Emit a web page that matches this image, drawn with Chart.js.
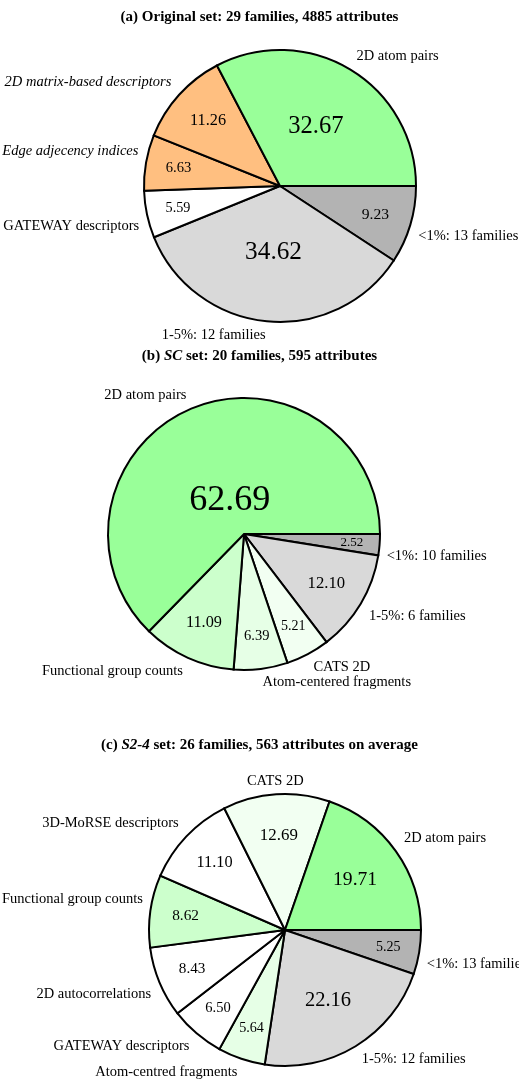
<!DOCTYPE html>
<html>
<head>
<meta charset="utf-8">
<script src="https://cdn.jsdelivr.net/npm/chart.js@4"></script>
<style>
  body { margin: 0; background: #fff; width: 519px; height: 1080px; position: relative; overflow: hidden; }
  canvas { position: absolute; left: 0; }
</style>
</head>
<body>
<canvas id="pieA" width="519" height="340" style="top:0px"></canvas>
<canvas id="pieB" width="519" height="370" style="top:340px"></canvas>
<canvas id="pieC" width="519" height="370" style="top:710px"></canvas>
<script>
// slices are listed anticlockwise starting at 3 o'clock, like the original figure

// (a) Original set
const labelsA = ['2D atom pairs', '2D matrix-based descriptors', 'Edge adjecency indices',
    'GATEWAY descriptors', '1-5%: 12 families', '<1%: 13 families'];
const valuesA = [32.67, 11.26, 6.63, 5.59, 34.62, 9.23];
const colorsA = ['#99ff99', '#ffbf80', '#ffbf80', '#ffffff', '#d9d9d9', '#b3b3b3'];
const italicA = ['2D matrix-based descriptors', 'Edge adjecency indices'];

// (b) SC set
const labelsB = ['2D atom pairs', 'Functional group counts', 'Atom-centered fragments',
    'CATS 2D', '1-5%: 6 families', '<1%: 10 families'];
const valuesB = [62.69, 11.09, 6.39, 5.21, 12.10, 2.52];
const colorsB = ['#99ff99', '#ccffcc', '#e6ffe6', '#f2fff2', '#d9d9d9', '#b3b3b3'];

// (c) S2-4 set
const labelsC = ['2D atom pairs', 'CATS 2D', '3D-MoRSE descriptors', 'Functional group counts',
    '2D autocorrelations', 'GATEWAY descriptors', 'Atom-centred fragments',
    '1-5%: 12 families', '<1%: 13 families'];
const valuesC = [19.71, 12.69, 11.10, 8.62, 8.43, 6.50, 5.64, 22.16, 5.25];
const colorsC = ['#99ff99', '#f2fff2', '#ffffff', '#ccffcc', '#ffffff', '#ffffff', '#e6ffe6', '#d9d9d9', '#b3b3b3'];

const FONT = "'Liberation Serif', 'DejaVu Serif', serif";
const RADIUS = 136;

// draws the percentages inside, the family names outside and the title
const pieLabels = {
    id: 'pieLabels',
    afterDatasetsDraw(chart, args, opts) {
        const ctx = chart.ctx;
        const meta = chart.getDatasetMeta(0);
        const values = chart.data.datasets[0].data;
        const names = chart.data.labels;
        ctx.save();
        ctx.fillStyle = '#000';
        ctx.textBaseline = 'middle';

        meta.data.forEach((arc, i) => {
            const p = arc.getProps(['x', 'y', 'startAngle', 'endAngle', 'outerRadius'], true);
            const mid = (p.startAngle + p.endAngle) / 2;
            const cos = Math.cos(mid), sin = Math.sin(mid);
            const v = values[i];

            // bigger slices get bigger numbers, pulled closer to the centre
            const d = Math.max(0.27, 0.82 - 0.0095 * v) * p.outerRadius;
            ctx.font = (12 + 0.385 * v).toFixed(1) + 'px ' + FONT;
            ctx.textAlign = 'center';
            ctx.fillText(v.toFixed(2), p.x + cos * d, p.y + sin * d);

            // names sit just outside; the ones near the horizontal are spread apart a bit
            const r = 1.1 * p.outerRadius;
            const flat = 1 - Math.abs(sin);
            const lx = p.x + cos * r - Math.sign(cos) * 7 * flat;
            const ly = p.y + sin * r + Math.sign(sin) * 11 * flat;
            const italic = (opts.italic || []).includes(names[i]);
            ctx.font = (italic ? 'italic ' : '') + '14.5px ' + FONT;
            ctx.textAlign = Math.abs(cos) < 0.08 ? 'center' : (cos > 0 ? 'left' : 'right');
            ctx.fillText(names[i], lx, ly);
        });

        // title made of runs, some in italics
        const runs = opts.title || [];
        const fontFor = run => (run[1] ? 'italic ' : '') + 'bold 15px ' + FONT;
        let total = 0;
        runs.forEach(run => { ctx.font = fontFor(run); total += ctx.measureText(run[0]).width; });
        let x = chart.width / 2 - total / 2;
        ctx.textAlign = 'left';
        runs.forEach(run => {
            ctx.font = fontFor(run);
            ctx.fillText(run[0], x, opts.titleY);
            x += ctx.measureText(run[0]).width;
        });
        ctx.restore();
    }
};

function makePie(id, labels, values, colors, cx, cy, title, titleY, italic) {
    const canvas = document.getElementById(id);
    const w = canvas.width, h = canvas.height;
    // Chart.js goes clockwise, the figure goes anticlockwise: reverse and start at 3 o'clock
    return new Chart(canvas, {
        type: 'pie',
        data: {
            labels: labels.slice().reverse(),
            datasets: [{
                data: values.slice().reverse(),
                backgroundColor: colors.slice().reverse(),
                borderColor: '#000',
                borderWidth: 2,
                borderJoinStyle: 'miter'
            }]
        },
        options: {
            responsive: false,
            animation: false,
            rotation: 90,
            radius: RADIUS,
            layout: {
                padding: { left: cx - RADIUS, right: w - cx - RADIUS, top: cy - RADIUS, bottom: h - cy - RADIUS }
            },
            plugins: {
                legend: { display: false },
                tooltip: { enabled: false },
                pieLabels: { title: title, titleY: titleY, italic: italic }
            }
        },
        plugins: [pieLabels]
    });
}

makePie('pieA', labelsA, valuesA, colorsA, 280, 186,
    [['(a) Original set: 29 families, 4885 attributes', false]], 17, italicA);
makePie('pieB', labelsB, valuesB, colorsB, 244, 194,
    [['(b) ', false], ['SC', true], [' set: 20 families, 595 attributes', false]], 16, []);
makePie('pieC', labelsC, valuesC, colorsC, 285, 220,
    [['(c) ', false], ['S2-4', true], [' set: 26 families, 563 attributes on average', false]], 35, []);
</script>
</body>
</html>
